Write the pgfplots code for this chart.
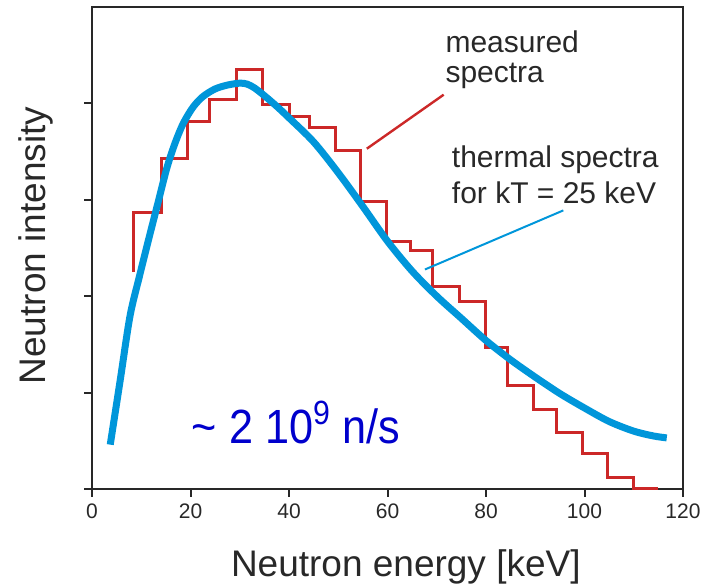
\documentclass[border=0pt]{standalone}
\usepackage{pgfplots}
\pgfplotsset{compat=1.18}
\usepackage{fontspec}
\setmainfont{Liberation Sans}
\definecolor{histred}{RGB}{204,40,40}
\definecolor{curveblue}{RGB}{0,150,218}
\definecolor{txtblue}{RGB}{0,0,204}
\definecolor{axgray}{RGB}{40,40,40}
\begin{document}
\begin{tikzpicture}
\begin{axis}[
  scale only axis, width=295.5pt, height=241pt,
  xmin=0, xmax=120, ymin=0, ymax=5,
  xtick={0,20,...,120}, ytick={0,1,2,3,4}, yticklabels={},
  tick align=outside, xtick pos=bottom, ytick pos=left,
  major tick length=4pt,
  axis line style={axgray, line width=1pt},
  every tick/.style={axgray, line width=1pt},
  tick label style={font=\fontsize{10.5}{12}\selectfont, text=axgray},
  /pgf/number format/assume math mode=true,
  xlabel={Neutron energy [keV]},
  ylabel={Neutron intensity},
  label style={font=\fontsize{18.5}{22}\selectfont, text=axgray},
  xlabel style={at={(axis description cs:0.531,-0.1826)}, anchor=base},
  ylabel style={at={(axis description cs:-0.0795,0.505)}, anchor=base},
  clip=false,
]
\coordinate (bbA) at (rel axis cs:-0.1557,-0.2012);
\coordinate (bbB) at (rel axis cs:1.0355,1.0145);
% measured spectrum (histogram)
\addplot[const plot, histred, line width=1.5pt, line join=miter] coordinates {
(8.4,2.25) (8.4,2.87) (14.1,3.43) (19.4,3.81) (23.9,4.04) (29.4,4.35)
(34.6,3.99) (40.0,3.86) (44.1,3.75) (49.4,3.51) (54.6,2.98) (59.7,2.57)
(64.6,2.47) (69.2,2.10) (74.7,1.94) (79.8,1.47) (84.4,1.07) (89.6,0.82)
(94.3,0.59) (99.6,0.37) (104.7,0.12) (110.0,0.01) (114.9,0.01)
};
% thermal spectrum (kT = 25 keV)
\addplot[curveblue, line width=3.5pt, smooth, line cap=butt] coordinates {
(3.7,0.46) (5.7,1.12) (7.7,1.79) (9.6,2.2) (11.5,2.59) (13.5,2.99)
(15.2,3.33) (16.8,3.58) (18.5,3.79) (20.5,3.96) (22.5,4.07) (25,4.15)
(27.5,4.19) (30,4.21) (31.5,4.20) (33,4.16) (35,4.08) (37.5,3.97)
(40,3.85) (45,3.60) (50,3.28) (55,2.93) (60,2.57) (65,2.26)
(70,2.00) (75,1.77) (80,1.54) (85,1.34) (90,1.16) (95,0.99)
(100,0.84) (105,0.70) (110,0.60) (114,0.55) (116.7,0.53)
};
% callouts
\draw[histred, line width=1.2pt] (axis cs:71.4,4.09) -- (axis cs:55.8,3.53);
\draw[curveblue, line width=1pt] (axis cs:95.7,2.89) -- (axis cs:67.6,2.277);
\node[anchor=base west, inner sep=0pt, text=axgray, font=\fontsize{15}{18}\selectfont] at (axis cs:71.7,4.53) {measured};
\node[anchor=base west, inner sep=0pt, text=axgray, font=\fontsize{15}{18}\selectfont] at (axis cs:71.7,4.22) {spectra};
\node[anchor=base west, inner sep=0pt, text=axgray, font=\fontsize{15}{18}\selectfont] at (axis cs:73.0,3.337) {thermal spectra};
\node[anchor=base west, inner sep=0pt, text=axgray, font=\fontsize{15}{18}\selectfont] at (axis cs:73.0,2.964) {for kT = 25 keV};
\node[anchor=base west, inner sep=0pt, text=txtblue, font=\fontsize{24}{28}\selectfont] at (axis cs:20.2,0.477) {\scalebox{0.9}[1]{\textasciitilde{} 2 10\textsuperscript{9} n/s}};
\end{axis}
\pgfresetboundingbox
\path[use as bounding box] (bbA) rectangle (bbB);
\end{tikzpicture}
\end{document}
